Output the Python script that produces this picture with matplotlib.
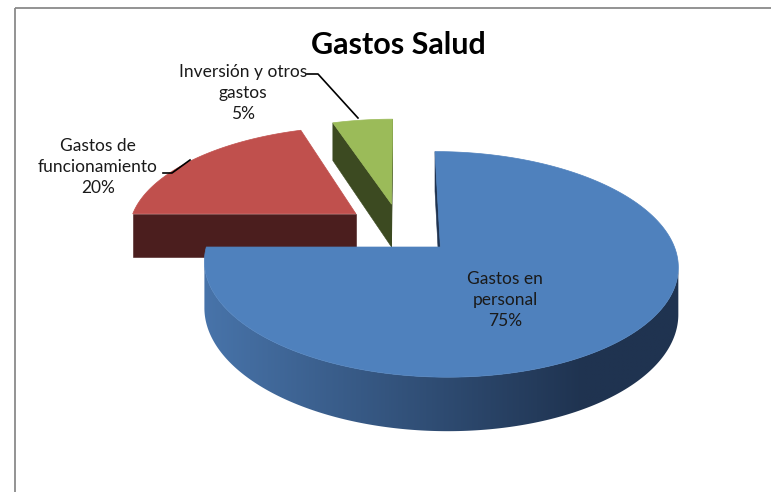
import numpy as np
import matplotlib
matplotlib.use("Agg")
import matplotlib.pyplot as plt
from matplotlib.patches import Polygon, Rectangle
from matplotlib.colors import to_rgb

# ---------------- data ----------------
title = "Gastos Salud"
categories = ["Gastos en\npersonal", "Gastos de\nfuncionamiento", "Inversión y otros\ngastos"]
values = [75, 20, 5]
top_colors = ["#4f81bd", "#c0504d", "#9bbb59"]
side_light = ["#4874aa", "#4f1f1f", "#3e4b22"]
side_dark = ["#1f3350", "#4b1e1e", "#3c4a21"]

# ---------------- geometry / style ----------------
W, H = 771, 492
CX, CY = 400.0, 228.5
RX, RY = 228.0, 104.5
PERS = 0.15
THICK = 44.5
EXPLODE = 0.244

FONT = ["Lato", "DejaVu Sans"]

fig = plt.figure(figsize=(W / 100, H / 100), dpi=100)
ax = fig.add_axes([0, 0, 1, 1])

# chart frame
ax.add_patch(Rectangle((15, 8), 900, 700, fill=False, edgecolor="#8a8a8a", lw=1.3, zorder=0))


def project(X, Y, z=0.0):
    f = 1.0 / (1.0 + PERS * Y)
    return CX + RX * X * f, CY - RY * Y * f + THICK * z * f


total = float(sum(values))
cum = np.concatenate([[0], np.cumsum(values)]) / total
slices = []
for i, v in enumerate(values):
    a0 = 90 - cum[i] * 360  # start at 12 o'clock, clockwise
    a1 = 90 - cum[i + 1] * 360
    mid = np.deg2rad((a0 + a1) / 2)
    ox, oy = EXPLODE * np.cos(mid), EXPLODE * np.sin(mid)
    t = np.deg2rad(np.linspace(a1, a0, max(int(abs(a0 - a1)) * 2, 8)))
    X = np.concatenate([[ox], ox + np.cos(t)])
    Y = np.concatenate([[oy], oy + np.sin(t)])
    slices.append((X, Y))

zo = 2.0
order = [1, 2, 0]  # back slices first, big front slice last
for i in order:
    X, Y = slices[i]
    sx, sy = project(X, Y, 0)
    bx, by = project(X, Y, 1)
    n = len(X)
    cl, cd = np.array(to_rgb(side_light[i])), np.array(to_rgb(side_dark[i]))

    # radial cut faces (edges touching the vertex)
    for k, j in [(0, 1), (n - 1, 0)]:
        if sx[j] - sx[k] > 0:
            quad = [(sx[k], sy[k]), (sx[j], sy[j]), (bx[j], by[j]), (bx[k], by[k])]
            ax.add_patch(Polygon(quad, closed=True, facecolor=cd, edgecolor=cd, lw=0.4, zorder=zo))

    # outer curved wall: contiguous runs of front-facing segments
    vis = [(sx[k + 1] - sx[k] > 0) for k in range(1, n - 1)]
    runs, cur = [], None
    for idx, ok in enumerate(vis):
        k = idx + 1
        if ok:
            if cur is None:
                cur = [k, k + 1]
            else:
                cur[1] = k + 1
        elif cur is not None:
            runs.append(cur)
            cur = None
    if cur is not None:
        runs.append(cur)
    for a, b in runs:
        idxs = np.arange(a, b + 1)
        pts = np.concatenate([np.column_stack([sx[idxs], sy[idxs]]),
                              np.column_stack([bx[idxs][::-1], by[idxs][::-1]])])
        poly = Polygon(pts, closed=True, facecolor="none", edgecolor="none", zorder=zo)
        ax.add_patch(poly)
        x0, x1 = pts[:, 0].min(), pts[:, 0].max()
        y0, y1 = pts[:, 1].min(), pts[:, 1].max()
        xs = np.linspace(x0, x1, 400)
        tt = np.clip((xs - x0) / (0.8 * (x1 - x0)), 0, 1)
        grad = cl[None, :] + (cd - cl)[None, :] * tt[:, None]
        img = np.repeat(grad[None, :, :], 2, axis=0)
        im = ax.imshow(img, extent=(x0 - 1, x1 + 1, y1 + 1, y0 - 1), origin="upper",
                       interpolation="bilinear", zorder=zo, aspect="auto")
        im.set_clip_path(poly)

    zo += 0.01
    ax.add_patch(Polygon(np.column_stack([sx, sy]), closed=True, facecolor=top_colors[i],
                         edgecolor=top_colors[i], lw=0.5, zorder=zo))
    zo += 0.01

ax.set_xlim(0, W)
ax.set_ylim(H, 0)
ax.set_aspect("auto")
ax.axis("off")

# ---------------- labels ----------------
pct = [f"{round(v / total * 100)}%" for v in values]
label_pos = [(505, 300), (98, 167), (243, 93)]
for i in range(3):
    ax.text(label_pos[i][0], label_pos[i][1], categories[i] + "\n" + pct[i],
            ha="center", va="center", multialignment="center",
            fontsize=12.5, family=FONT, color="#1a1a1a", linespacing=1.42, zorder=5)

# leader lines
ax.plot([163, 172, 190], [173, 173, 160], color="black", lw=1.2, zorder=5)
ax.plot([307, 318, 358], [74, 74, 118], color="black", lw=1.2, zorder=5)

ax.text(398, 45, title, ha="center", va="center", fontsize=22, fontweight="bold",
        family=FONT, color="black", zorder=5)

fig.savefig("out.png", dpi=100)
